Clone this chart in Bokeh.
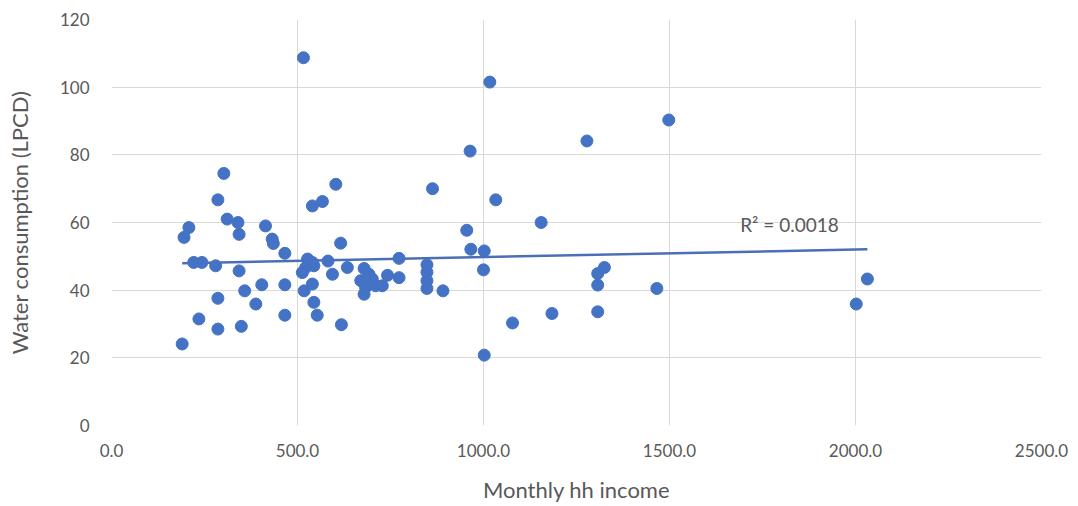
import numpy as np
from bokeh.plotting import figure
from bokeh.models import FixedTicker, NumeralTickFormatter, Range1d, Label
from bokeh.embed import file_html
from bokeh.resources import INLINE

# Monthly household income
income = [190, 195, 208, 221, 243, 235, 280, 286, 286, 286,
          302, 311, 340, 343, 343, 349, 358, 388, 404, 414,
          432, 435, 466, 466, 466, 516, 527, 540, 522, 513,
          544, 518, 540, 544, 553, 540, 567, 582, 594, 603,
          616, 618, 634, 679, 670, 683, 679, 692, 701, 710,
          728, 742, 773, 773, 848, 848, 848, 848, 891, 863,
          955, 964, 966, 1000, 1002, 1002, 1017, 1033, 1078, 1155,
          1184, 1278, 1307, 1307, 1307, 1325, 1466, 1498, 2002, 2032]
# Water consumption (LPCD)
water = [24.1, 55.6, 58.5, 48.2, 48.2, 31.5, 47.2, 66.7, 37.6, 28.5,
         74.5, 61.0, 60.0, 56.5, 45.7, 29.3, 39.8, 35.9, 41.6, 59.0,
         55.1, 53.8, 50.9, 41.6, 32.6, 108.7, 49.2, 48.2, 46.7, 45.2,
         47.2, 39.8, 41.8, 36.4, 32.6, 64.9, 66.2, 48.6, 44.7, 71.3,
         53.9, 29.8, 46.7, 46.4, 42.8, 40.8, 38.8, 44.7, 43.3, 41.3,
         41.3, 44.4, 43.7, 49.4, 47.5, 45.3, 42.8, 40.5, 39.8, 70.0,
         57.7, 81.1, 52.1, 46.0, 51.6, 20.8, 101.5, 66.7, 30.3, 60.0,
         33.1, 84.1, 33.6, 41.5, 44.9, 46.7, 40.5, 90.3, 35.9, 43.3]

x_ticks = [0, 500, 1000, 1500, 2000, 2500]
y_ticks = [0, 20, 40, 60, 80, 100, 120]
r2_label = "R² = 0.0018"

FONT = "Lato"
GREY = "#595959"
BLUE = "#4472C4"

p = figure(frame_width=930, frame_height=406, output_backend="svg",
           toolbar_location=None, min_border_left=111, min_border_top=19,
           min_border_right=32, min_border_bottom=78,
           x_range=Range1d(0, 2500), y_range=Range1d(0, 120))
p.outline_line_color = None
p.background_fill_color = "white"

for ax in (p.xaxis[0], p.yaxis[0]):
    ax.axis_line_color = None
    ax.major_tick_line_color = None
    ax.minor_tick_line_color = None
    ax.major_label_text_color = GREY
    ax.major_label_text_font = FONT
    ax.major_label_text_font_size = "17px"
    ax.axis_label_text_color = GREY
    ax.axis_label_text_font = FONT
    ax.axis_label_text_font_style = "normal"

p.xaxis.axis_label_text_font_size = "22px"
p.yaxis.axis_label_text_font_size = "22px"
p.xaxis.ticker = FixedTicker(ticks=x_ticks)
p.yaxis.ticker = FixedTicker(ticks=y_ticks)
p.xaxis.formatter = NumeralTickFormatter(format="0.0")
p.xaxis.axis_label = "Monthly hh income"
p.yaxis.axis_label = "Water consumption (LPCD)"
p.xaxis.major_label_standoff = 12
p.yaxis.major_label_standoff = 16
p.xaxis.axis_label_standoff = 16
p.yaxis.axis_label_standoff = 24

p.xgrid.ticker = FixedTicker(ticks=x_ticks)
p.ygrid.ticker = FixedTicker(ticks=y_ticks)
p.xgrid.grid_line_color = "#d9d9d9"
p.ygrid.grid_line_color = "#d9d9d9"

# Linear trend line fitted to the data
xs = np.array(income, dtype=float)
ys = np.array(water, dtype=float)
slope, intercept = np.polyfit(xs, ys, 1)
tx = np.array([xs.min(), xs.max()])
p.line(tx, slope * tx + intercept, line_color="#4A6FB5", line_width=2.5)

p.scatter(income, water, size=12, fill_color=BLUE, line_color=BLUE, marker="circle")

p.add_layout(Label(x=1690, y=59.3, text=r2_label, text_font=FONT,
                   text_font_size="19px", text_color=GREY,
                   text_baseline="middle"))

open("out.html", "w").write(file_html(p, INLINE))
